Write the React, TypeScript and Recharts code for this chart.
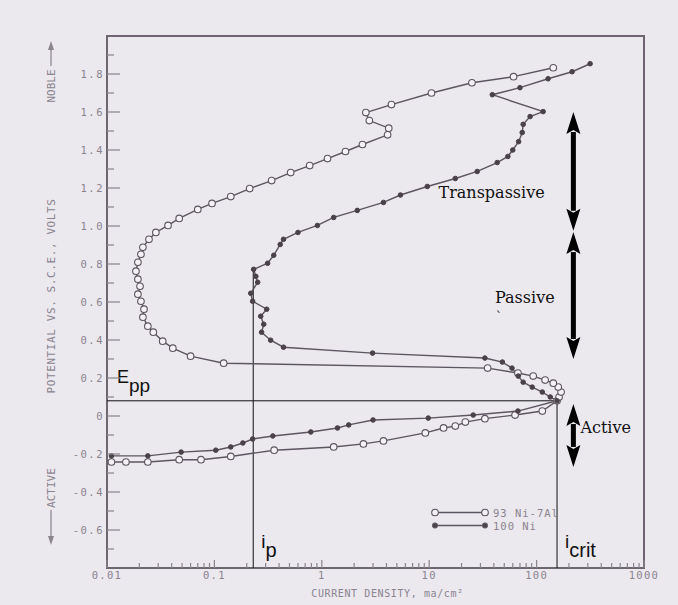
import {
  Legend,
  Line,
  LineChart,
  ReferenceArea,
  ReferenceDot,
  ReferenceLine,
  XAxis,
  YAxis,
} from 'recharts';

// 93 Ni-7Al scan: current density (mA/cm2) and potential (V vs SCE), in scan order
const ni93Current = [
  0.011, 0.015, 0.024, 0.047, 0.075, 0.142, 0.36, 1.29, 2.44, 3.75, 9.2, 13.6, 17.5, 21.7, 33, 63, 113, 155,
  162, 169, 159, 143, 120, 93, 67, 35, 0.122, 0.06, 0.041, 0.033, 0.027, 0.024, 0.0216, 0.0221, 0.0207,
  0.0194, 0.0203, 0.0194, 0.0186, 0.0194, 0.0207, 0.0216, 0.0246, 0.0285, 0.037, 0.047, 0.07, 0.095,
  0.142, 0.213, 0.341, 0.513, 0.771, 1.13, 1.66, 2.39, 4.1, 4.2, 2.77, 2.57, 4.45, 10.5, 25, 61, 143,
];
const ni93Potential = [
  -0.242, -0.242, -0.242, -0.23, -0.23, -0.213, -0.18, -0.163, -0.147, -0.131, -0.089, -0.063, -0.053,
  -0.032, -0.014, 0.005, 0.026, 0.08, 0.1, 0.126, 0.152, 0.173, 0.189, 0.21, 0.226, 0.252, 0.278, 0.315,
  0.357, 0.394, 0.441, 0.473, 0.52, 0.562, 0.604, 0.641, 0.683, 0.72, 0.762, 0.809, 0.851, 0.888, 0.93,
  0.966, 1.003, 1.04, 1.087, 1.119, 1.155, 1.197, 1.239, 1.281, 1.318, 1.355, 1.392, 1.429, 1.48, 1.515,
  1.555, 1.597, 1.639, 1.7, 1.754, 1.786, 1.833,
];

// 100 Ni scan
const ni100Current = [
  0.011, 0.024, 0.049, 0.103, 0.142, 0.184, 0.227, 0.35, 0.79, 1.4, 1.78, 3.0, 9.8, 25.7, 67, 155, 134,
  113, 91, 75, 67.5, 59, 48, 33, 2.97, 0.44, 0.334, 0.275, 0.288, 0.27, 0.307, 0.227, 0.218, 0.253, 0.243,
  0.232, 0.313, 0.357, 0.41, 0.44, 0.6, 0.91, 1.29, 2.14, 3.75, 5.4, 9.6, 17.5, 28, 43, 54, 60, 68, 73.5,
  75, 87, 115, 38.7, 70, 128, 214, 315,
];
const ni100Potential = [
  -0.21, -0.21, -0.19, -0.18, -0.163, -0.142, -0.121, -0.105, -0.084, -0.063, -0.047, -0.021, -0.011,
  0.005, 0.026, 0.08, 0.1, 0.126, 0.152, 0.178, 0.21, 0.252, 0.284, 0.305, 0.331, 0.362, 0.399, 0.441,
  0.483, 0.525, 0.562, 0.604, 0.646, 0.704, 0.735, 0.772, 0.804, 0.846, 0.903, 0.93, 0.966, 1.003, 1.045,
  1.082, 1.124, 1.163, 1.208, 1.25, 1.287, 1.334, 1.366, 1.4, 1.444, 1.492, 1.535, 1.576, 1.602, 1.691,
  1.728, 1.775, 1.812, 1.854,
];

const seriesNames = ['93 Ni-7Al', '100 Ni'];
const xTickLabels = ['0.01', '0.1', '1', '10', '100', '1000'];
const yTickLabels = ['-0.6', '-0.4', '-0.2', '0', '0.2', '0.4', '0.6', '0.8', '1.0', '1.2', '1.4', '1.6', '1.8'];

// characteristic points of the 100 Ni curve
const eppPotential = 0.08;
const ipCurrent = 0.23;
const ipTopPotential = 0.772;
const icritCurrent = 155;

// double arrows marking the regions (potential ranges)
const regionNames = ['Transpassive', 'Passive', 'Active'];
const regionTops = [1.6, 0.968, 0.063];
const regionBottoms = [0.975, 0.3, -0.268];
const regionArrowCurrent = 220;

const ni93 = ni93Current.map((i, k) => ({ i, e: ni93Potential[k] }));
const ni100 = ni100Current.map((i, k) => ({ i, e: ni100Potential[k] }));

const xDecades = xTickLabels.map(Number);
const xTicks = xDecades.flatMap((d, k) =>
  k < xDecades.length - 1 ? [d, ...[2, 3, 4, 5, 6, 7, 8, 9].map((m) => +(d * m).toPrecision(3))] : [d]
);
const yTicks = Array.from({ length: 27 }, (_, k) => Math.round(-7 + k) / 10);

const INK = '#5d5560';
const AXIS_GREY = '#8a848e';
const MONO = '"DejaVu Sans Mono", "Liberation Mono", monospace';

// ticks point inward from the frame, labels sit just outside it
const XTick = ({ x, y, payload }: any) => {
  const idx = xDecades.indexOf(payload.value);
  return (
    <g>
      <line x1={x} x2={x} y1={y} y2={y - (idx >= 0 ? 8 : 5)} stroke={AXIS_GREY} strokeWidth={1.2} />
      {idx >= 0 && (
        <text x={x} y={y + 11} textAnchor="middle" fontFamily={MONO} fontSize={10.5} letterSpacing={1.3} fill={AXIS_GREY}>
          {xTickLabels[idx]}
        </text>
      )}
    </g>
  );
};

const YTick = ({ x, y, payload }: any) => {
  const label = yTickLabels.find((l) => Math.abs(parseFloat(l) - payload.value) < 1e-6);
  return (
    <g>
      <line x1={x} x2={x + (label ? 13 : 7)} y1={y} y2={y} stroke={AXIS_GREY} strokeWidth={1.2} />
      {label && (
        <text x={x - 3} y={y + 4} textAnchor="end" fontFamily={MONO} fontSize={10.5} letterSpacing={1.5} fill={AXIS_GREY}>
          {label}
        </text>
      )}
    </g>
  );
};

const YTitle = () => (
  <g fill={AXIS_GREY} stroke="none" fontFamily={MONO} fontSize={11}>
    <text transform="translate(55,296) rotate(-90)" textAnchor="middle" letterSpacing={0.6}>
      POTENTIAL VS. S.C.E., VOLTS
    </text>
    <text transform="translate(55,86) rotate(-90)" textAnchor="middle">NOBLE</text>
    <line x1={51} x2={51} y1={66} y2={48} stroke={AXIS_GREY} strokeWidth={1.2} />
    <path d="M51,41 L48,50 L54,50 Z" />
    <text transform="translate(55,488) rotate(-90)" textAnchor="middle">ACTIVE</text>
    <line x1={51} x2={51} y1={510} y2={538} stroke={AXIS_GREY} strokeWidth={1.2} />
    <path d="M51,545 L48,536 L54,536 Z" />
  </g>
);

const XTitle = ({ viewBox }: any) => (
  <text
    x={viewBox.x + viewBox.width / 2 + 12}
    y={597}
    textAnchor="middle"
    fontFamily={MONO}
    fontSize={10}
    letterSpacing={0.6}
    fill={AXIS_GREY}
  >
    CURRENT DENSITY, ma/cm²
  </text>
);

const DoubleArrow = ({ x1, y1, y2 }: any) => {
  const top = Math.min(y1, y2);
  const bot = Math.max(y1, y2);
  const hw = 7;
  const hl = 22;
  return (
    <g>
      <line x1={x1} x2={x1} y1={top + hl - 2} y2={bot - hl + 2} stroke="#000" strokeWidth={5} />
      <path d={`M${x1},${top} L${x1 - hw},${top + hl} L${x1},${top + hl - 4} L${x1 + hw},${top + hl} Z`} fill="#000" />
      <path d={`M${x1},${bot} L${x1 - hw},${bot - hl} L${x1},${bot - hl + 4} L${x1 + hw},${bot - hl} Z`} fill="#000" />
    </g>
  );
};

const serifLabel = (text: string, dx = 0, size = 16) => (p: any) => (
  <text x={p.cx + dx} y={p.cy} fontFamily='"DejaVu Serif", serif' fontSize={size} fill="#111">
    {text}
  </text>
);

const subLabel = (main: string, sub: string, dx: number, dy: number, size: number) => (p: any) => (
  <text x={p.cx + dx} y={p.cy + dy} fontFamily='"Liberation Sans", Arial, sans-serif' fontSize={size} fill="#111">
    {main}
    <tspan dy={9} fontSize={size + 1}>
      {sub}
    </tspan>
  </text>
);

const LegendBox = () => (
  <div style={{ display: 'flex', flexDirection: 'column' }}>
    {seriesNames.map((name, k) => {
      const open = k === 0;
      return (
        <div key={name} style={{ display: 'flex', alignItems: 'center', height: 13 }}>
          <svg width={60} height={13}>
            <line x1={4} x2={54} y1={6.5} y2={6.5} stroke={INK} strokeWidth={1.4} />
            {[4, 54].map((cx) => (
              <circle
                key={cx}
                cx={cx}
                cy={6.5}
                r={open ? 3.3 : 2.4}
                fill={open ? '#f4f2f5' : '#4a4248'}
                stroke={INK}
                strokeWidth={1.1}
              />
            ))}
          </svg>
          <span style={{ fontFamily: MONO, fontSize: 10.5, letterSpacing: 1, color: AXIS_GREY, marginLeft: 2 }}>
            {name}
          </span>
        </div>
      );
    })}
  </div>
);

export default function App() {
  return (
    <div style={{ position: 'absolute', left: 0, top: 0, width: 678, height: 605, background: '#ebe8ee' }}>
      <LineChart width={678} height={605} margin={{ top: 36, right: 34, bottom: 0, left: 0 }}>
        <XAxis
          dataKey="i"
          type="number"
          scale="log"
          domain={[0.01, 1000]}
          allowDataOverflow
          ticks={xTicks}
          interval={0}
          tick={<XTick />}
          tickSize={0}
          tickMargin={0}
          axisLine={false}
          tickLine={false}
          height={37}
          label={XTitle}
        />
        <YAxis
          dataKey="e"
          type="number"
          domain={[-0.8, 2.0]}
          allowDataOverflow
          ticks={yTicks}
          interval={0}
          tick={<YTick />}
          tickSize={0}
          tickMargin={0}
          axisLine={false}
          tickLine={false}
          width={107}
          label={YTitle}
        />
        <ReferenceArea x1={0.01} x2={1000} y1={-0.8} y2={2.0} fill="none" stroke="#6d6670" strokeWidth={2} />

        <ReferenceLine segment={[{ x: 0.01, y: eppPotential }, { x: icritCurrent, y: eppPotential }]} stroke="#111" strokeWidth={1} />
        <ReferenceLine segment={[{ x: ipCurrent, y: ipTopPotential }, { x: ipCurrent, y: -0.8 }]} stroke="#111" strokeWidth={1} />
        <ReferenceLine segment={[{ x: icritCurrent, y: eppPotential }, { x: icritCurrent, y: -0.8 }]} stroke="#111" strokeWidth={1} />

        {regionNames.map((name, k) => (
          <ReferenceLine
            key={name}
            segment={[{ x: regionArrowCurrent, y: regionTops[k] }, { x: regionArrowCurrent, y: regionBottoms[k] }]}
            shape={DoubleArrow}
          />
        ))}

        <Line
          name={seriesNames[0]}
          data={ni93}
          dataKey="e"
          stroke={INK}
          strokeWidth={1.4}
          dot={{ r: 3.3, fill: '#f4f2f5', stroke: INK, strokeWidth: 1.1 }}
          isAnimationActive={false}
        />
        <Line
          name={seriesNames[1]}
          data={ni100}
          dataKey="e"
          stroke={INK}
          strokeWidth={1.4}
          dot={{ r: 2.3, fill: '#4a4248', stroke: '#4a4248', strokeWidth: 1 }}
          isAnimationActive={false}
        />

        <ReferenceDot x={12.2} y={1.145} r={0} shape={serifLabel('Transpassive')} />
        <ReferenceDot x={41} y={0.593} r={0} shape={serifLabel('Passive')} />
        <ReferenceDot x={41} y={0.5} r={0} shape={serifLabel('`', 1, 12)} />
        <ReferenceDot x={regionArrowCurrent} y={-0.089} r={0} shape={serifLabel('Active', 7)} />

        <ReferenceDot x={0.01} y={eppPotential} r={0} shape={subLabel('E', 'pp', 10, -18, 18)} />
        <ReferenceDot x={ipCurrent} y={-0.693} r={0} shape={subLabel('i', 'p', 8, 0, 19)} />
        <ReferenceDot x={icritCurrent} y={-0.693} r={0} shape={subLabel('i', 'crit', 8, 0, 19)} />

        <Legend
          layout="vertical"
          align="center"
          verticalAlign="middle"
          content={LegendBox}
          wrapperStyle={{ position: 'absolute', left: 431, top: 506, width: 200 }}
        />
      </LineChart>
    </div>
  );
}
